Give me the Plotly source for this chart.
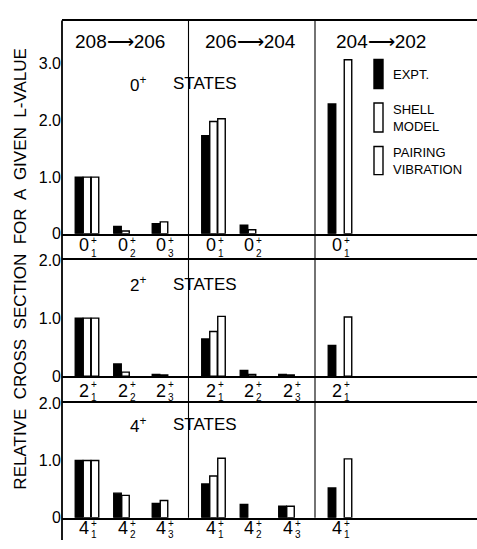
import plotly.graph_objects as go

# ---------------- data ----------------
transitions = ["208⟶206", "206⟶204", "204⟶202"]
spins = ["0", "2", "4"]
series_names = ["EXPT.", "SHELL MODEL", "PAIRING VIBRATION"]

# 0+ states
trans_0 = [0, 0, 0, 1, 1, 2]
level_0 = [1, 2, 3, 1, 2, 1]
expt_0 = [1.0, 0.13, 0.18, 1.73, 0.15, 2.29]
shell_0 = [1.0, 0.05, 0.21, 1.98, 0.07, None]
pair_0 = [1.0, None, None, 2.03, None, 3.07]

# 2+ states
trans_2 = [0, 0, 0, 1, 1, 1, 2]
level_2 = [1, 2, 3, 1, 2, 3, 1]
expt_2 = [1.0, 0.21, 0.03, 0.64, 0.10, 0.03, 0.53]
shell_2 = [1.0, 0.07, 0.02, 0.77, 0.03, 0.02, None]
pair_2 = [1.0, None, None, 1.03, None, None, 1.02]

# 4+ states
trans_4 = [0, 0, 0, 1, 1, 1, 2]
level_4 = [1, 2, 3, 1, 2, 3, 1]
expt_4 = [1.0, 0.43, 0.25, 0.59, 0.23, 0.20, 0.52]
shell_4 = [1.0, 0.39, 0.30, 0.73, None, 0.20, None]
pair_4 = [1.0, None, None, 1.04, None, None, 1.03]

rows = [
    (trans_0, level_0, [expt_0, shell_0, pair_0]),
    (trans_2, level_2, [expt_2, shell_2, pair_2]),
    (trans_4, level_4, [expt_4, shell_4, pair_4]),
]

# ---------------- geometry ----------------
W, H = 477, 549
L = 62
PW = W - L                # plot width in px, x-axis in px units
panel_w = 126.5
g0, gstep, bw = 13, 38.5, 8
row_px = [(13, 233), (260, 380), (408, 526)]
row_ymax = [220 / 58.5, 2.0, 2.0]
row_ticks = [[0, 1, 2, 3], [0, 1, 2], [0, 1, 2]]
row_ticktext = [["0", "1.0", "2.0", "3.0"], ["0", "1.0", "2.0"], ["0", "1.0", "2.0"]]
label_y = [(245, 240, 253), (395, 389, 402), (537, 532, 543)]  # main, sup, sub

FONT = "Liberation Sans, Arial, sans-serif"


def py(p):
    return 1 - p / H


def px(p):
    return (p - L) / PW


def group_start(t, lev):
    return t * panel_w + g0 + gstep * (lev - 1)


fig = go.Figure()
fills = ["black", "white", "white"]
annotations = []
shapes = []

for r, (trans, lev, vals) in enumerate(rows):
    xa = "x" if r == 0 else f"x{r + 1}"
    ya = "y" if r == 0 else f"y{r + 1}"
    for s, v in enumerate(vals):
        xs = [group_start(t, l) + bw * s + bw / 2 for t, l in zip(trans, lev)]
        fig.add_trace(go.Bar(
            x=xs, y=v, width=bw - 0.5, name=series_names[s],
            marker=dict(color=fills[s], line=dict(color="black", width=1.4)),
            xaxis=xa, yaxis=ya, showlegend=False,
        ))
    # category labels
    ym, ys, ysub = label_y[r]
    for t, l in zip(trans, lev):
        x0 = group_start(t, l)
        annotations.append(dict(x=x0 + 9, y=py(ym), xref=xa, yref="paper", text=spins[r],
                                showarrow=False, xanchor="center", yanchor="middle",
                                font=dict(size=18, family=FONT, color="black")))
        annotations.append(dict(x=x0 + 14, y=py(ys), xref=xa, yref="paper", text="+",
                                showarrow=False, xanchor="left", yanchor="middle",
                                font=dict(size=10, family=FONT, color="black")))
        annotations.append(dict(x=x0 + 14, y=py(ysub), xref=xa, yref="paper", text=str(l),
                                showarrow=False, xanchor="left", yanchor="middle",
                                font=dict(size=10, family=FONT, color="black")))

layout_axes = {}
for r in range(3):
    xk = "xaxis" if r == 0 else f"xaxis{r + 1}"
    yk = "yaxis" if r == 0 else f"yaxis{r + 1}"
    ya = "y" if r == 0 else f"y{r + 1}"
    xa = "x" if r == 0 else f"x{r + 1}"
    top, bot = row_px[r]
    layout_axes[xk] = dict(domain=[0, 1], range=[0, PW], anchor=ya, showticklabels=False,
                           showgrid=False, zeroline=False, showline=True, mirror=True,
                           linecolor="black", linewidth=1.5, ticks="")
    layout_axes[yk] = dict(domain=[py(bot), py(top)], range=[0, row_ymax[r]], anchor=xa,
                           tickvals=row_ticks[r], ticktext=row_ticktext[r],
                           showgrid=False, zeroline=False, showline=False, ticks="",
                           tickfont=dict(size=16, family=FONT, color="black"))

# frame lines
shapes.append(dict(type="line", xref="paper", yref="paper", x0=0, x1=0, y0=py(13), y1=py(549),
                   line=dict(color="black", width=1.8)))
for d in (panel_w, 2 * panel_w):
    shapes.append(dict(type="line", xref="x", yref="paper", x0=d, x1=d, y0=py(13), y1=py(526),
                       line=dict(color="black", width=1.1)))

# headers
hdr_x = [120, 250, 381]
for t, name in enumerate(transitions):
    annotations.append(dict(x=px(hdr_x[t]), y=py(35), xref="paper", yref="paper", text=name,
                            showarrow=False, xanchor="center", yanchor="middle",
                            font=dict(size=19, family=FONT, color="black")))

states_y = [78, 285, 430]
for r in range(3):
    annotations.append(dict(x=px(138), y=py(states_y[r]), xref="paper", yref="paper",
                            text=spins[r] + "<sup>+</sup>", showarrow=False,
                            xanchor="center", yanchor="middle",
                            font=dict(size=17, family=FONT, color="black")))
    annotations.append(dict(x=px(205), y=py(states_y[r]), xref="paper", yref="paper",
                            text="STATES", showarrow=False, xanchor="center", yanchor="middle",
                            font=dict(size=17, family=FONT, color="black")))

# legend
leg = [(53, 83, "black", "EXPT.", 69), (98, 128, "white", "SHELL<br>MODEL", 113),
       (143, 172, "white", "PAIRING<br>VIBRATION", 158)]
for y0, y1, col, txt, yc in leg:
    shapes.append(dict(type="rect", xref="paper", yref="paper", x0=px(374), x1=px(383),
                       y0=py(y1), y1=py(y0), fillcolor=col, line=dict(color="black", width=1.4)))
    annotations.append(dict(x=px(391), y=py(yc), xref="paper", yref="paper", text=txt,
                            showarrow=False, xanchor="left", yanchor="middle", align="left",
                            font=dict(size=13, family=FONT, color="black")))

# y title
annotations.append(dict(x=px(21), y=py(270), xref="paper", yref="paper",
                        text="RELATIVE  CROSS  SECTION  FOR  A  GIVEN  L-VALUE",
                        textangle=-90, showarrow=False, xanchor="center", yanchor="middle",
                        font=dict(size=17, family=FONT, color="black")))

fig.update_layout(
    width=W, height=H, margin=dict(l=L, r=0, t=0, b=0),
    paper_bgcolor="white", plot_bgcolor="white", barmode="overlay",
    showlegend=False, annotations=annotations, shapes=shapes, **layout_axes,
)

fig.write_html("out.html", config={"displayModeBar": False},
               post_script="document.body.style.margin='0';")
